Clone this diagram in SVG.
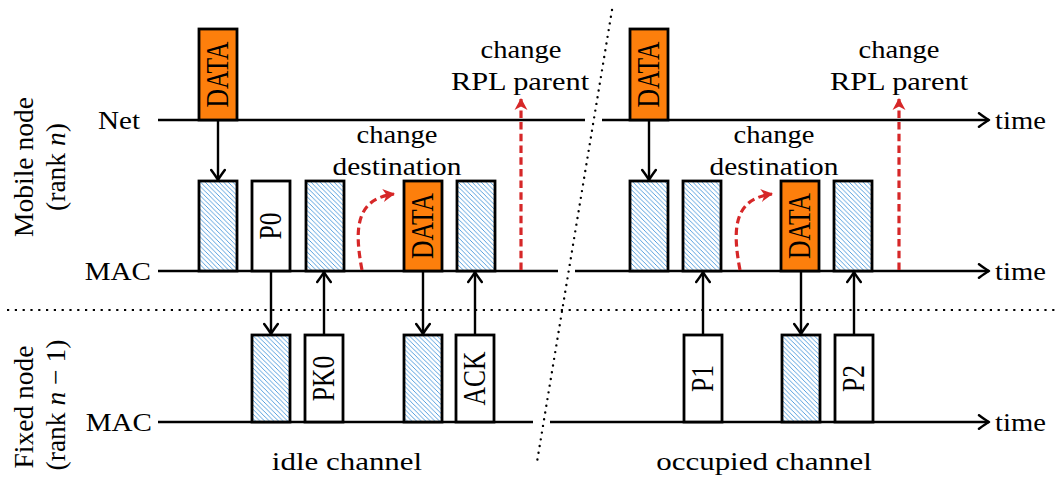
<svg xmlns="http://www.w3.org/2000/svg" width="1059" height="480" viewBox="0 0 1059 480">
  <style>
    text { font-family: "Liberation Serif", "Times New Roman", serif; fill: #000; stroke: none; }
    .lbl { font-size: 26px; }
    .side { font-size: 27.5px; text-anchor: middle; }
    .mid { text-anchor: middle; }
    .end { text-anchor: end; }
    .box-text { font-size: 25.5px; text-anchor: middle; }
    .axis { stroke: #000; stroke-width: 2.6; fill: none; }
    .frame { stroke: #000; stroke-width: 2.8; }
    .hatched { fill: url(#nwlines); }
    .plain { fill: #fff; }
    .orange { fill: #fd7f0c; }
    .msg { stroke: #000; stroke-width: 2.4; fill: none; marker-end: url(#barb); }
    .change { stroke: #d62728; stroke-width: 3.2; fill: none; stroke-dasharray: 7.5 4.2; marker-end: url(#redhead); }
    .sep-h { stroke: #000; stroke-width: 2.2; stroke-dasharray: 2.2 5.6; fill: none; }
    .sep-d { stroke: #000; stroke-width: 2.4; stroke-dasharray: 0 6.8; stroke-linecap: round; fill: none; }
  </style>
  <defs>
    <!-- north-west hatching for the channel-busy slots -->
    <pattern id="nwlines" patternUnits="userSpaceOnUse" width="4.6" height="4.6">
      <rect width="4.6" height="4.6" fill="#fff"/>
      <path d="M-1,-1 L5.6,5.6 M-1,3.6 L1,5.6 M3.6,-1 L5.6,1" stroke="#3a8fd8" stroke-width="0.85"/>
    </pattern>
    <marker id="barb" markerUnits="userSpaceOnUse" markerWidth="16" markerHeight="16" viewBox="-12 -8 14 16" refX="0" refY="0" orient="auto">
      <path d="M-10,-6.8 Q-3,-1.6 0,0 Q-3,1.6 -10,6.8" stroke="#000" stroke-width="2.5" fill="none" stroke-linecap="round" stroke-linejoin="round"/>
    </marker>
    <marker id="redhead" markerUnits="userSpaceOnUse" markerWidth="16" markerHeight="16" viewBox="-13 -8 15 16" refX="0" refY="0" orient="auto">
      <path d="M1,0 L-11,-6.5 L-7.5,0 L-11,6.5 Z" fill="#d62728"/>
    </marker>
  </defs>

  <!-- separators: node boundary and idle/occupied split -->
  <g id="separators">
    <line class="sep-h" x1="7" y1="310" x2="1059" y2="310"/>
    <line class="sep-d" x1="612" y1="10" x2="537" y2="462"/>
  </g>

  <!-- time axes -->
  <g id="axes">
    <line class="axis" x1="158" y1="120" x2="585" y2="120"/>
    <line class="axis" x1="602" y1="120" x2="989" y2="120" marker-end="url(#barb)"/>
    <line class="axis" x1="158" y1="271" x2="558" y2="271"/>
    <line class="axis" x1="575" y1="271" x2="989" y2="271" marker-end="url(#barb)"/>
    <line class="axis" x1="158" y1="422" x2="533" y2="422"/>
    <line class="axis" x1="550" y1="422" x2="989" y2="422" marker-end="url(#barb)"/>
    <text class="lbl" transform="translate(995,128.5) scale(1.1,1)">time</text>
    <text class="lbl" transform="translate(995,280) scale(1.1,1)">time</text>
    <text class="lbl" transform="translate(995,430.5) scale(1.1,1)">time</text>
    <text class="lbl end" transform="translate(140,128.5) scale(1.12,1)">Net</text>
    <text class="lbl end" transform="translate(151,280) scale(1.12,1)">MAC</text>
    <text class="lbl end" transform="translate(152,430.5) scale(1.12,1)">MAC</text>
  </g>

  <!-- side labels -->
  <g id="mobile-label">
    <text class="side" transform="translate(33,167) rotate(-90)">Mobile node</text>
    <text class="side" transform="translate(65,167) rotate(-90)">(rank <tspan font-style="italic">n</tspan>)</text>
  </g>
  <g id="fixed-label">
    <text class="side" transform="translate(33,407) rotate(-90)">Fixed node</text>
    <text class="side" transform="translate(65,405) rotate(-90)">(rank <tspan font-style="italic">n</tspan> − 1)</text>
  </g>

  <!-- mobile node, network layer -->
  <g id="net-data-idle">
    <rect class="frame orange" x="199" y="29" width="38" height="91"/>
    <text class="box-text" transform="translate(218,74.5) scale(1.22,1) rotate(-90)" y="8.4">DATA</text>
  </g>
  <g id="net-data-busy">
    <rect class="frame orange" x="630" y="29" width="38" height="91"/>
    <text class="box-text" transform="translate(649,74.5) scale(1.22,1) rotate(-90)" y="8.4">DATA</text>
  </g>

  <!-- mobile node, MAC layer -->
  <g id="mob-cca-1"><rect class="frame hatched" x="199" y="181" width="38" height="90"/></g>
  <g id="mob-p0">
    <rect class="frame plain" x="252" y="181" width="38" height="90"/>
    <text class="box-text" transform="translate(271,226) scale(1.22,1) rotate(-90)" y="8.4">P0</text>
  </g>
  <g id="mob-rx-pk0"><rect class="frame hatched" x="306" y="181" width="38" height="90"/></g>
  <g id="mob-data-idle">
    <rect class="frame orange" x="404" y="181" width="38" height="90"/>
    <text class="box-text" transform="translate(423,226) scale(1.22,1) rotate(-90)" y="8.4">DATA</text>
  </g>
  <g id="mob-rx-ack"><rect class="frame hatched" x="457" y="181" width="38" height="90"/></g>

  <g id="mob-cca-2"><rect class="frame hatched" x="630" y="181" width="38" height="90"/></g>
  <g id="mob-rx-p1"><rect class="frame hatched" x="683" y="181" width="38" height="90"/></g>
  <g id="mob-data-busy">
    <rect class="frame orange" x="781" y="181" width="38" height="90"/>
    <text class="box-text" transform="translate(800,226) scale(1.22,1) rotate(-90)" y="8.4">DATA</text>
  </g>
  <g id="mob-rx-p2"><rect class="frame hatched" x="834" y="181" width="38" height="90"/></g>

  <!-- fixed node, MAC layer -->
  <g id="fix-rx-p0"><rect class="frame hatched" x="252" y="335" width="38" height="87"/></g>
  <g id="fix-pk0">
    <rect class="frame plain" x="305" y="335" width="38" height="87"/>
    <text class="box-text" transform="translate(324,378.5) scale(1.22,1) rotate(-90)" y="8.4">PK0</text>
  </g>
  <g id="fix-rx-data-idle"><rect class="frame hatched" x="404" y="335" width="38" height="87"/></g>
  <g id="fix-ack">
    <rect class="frame plain" x="456" y="335" width="38" height="87"/>
    <text class="box-text" transform="translate(475,378.5) scale(1.22,1) rotate(-90)" y="8.4">ACK</text>
  </g>
  <g id="fix-p1">
    <rect class="frame plain" x="684" y="335" width="38" height="87"/>
    <text class="box-text" transform="translate(703,378.5) scale(1.22,1) rotate(-90)" y="8.4">P1</text>
  </g>
  <g id="fix-rx-data-busy"><rect class="frame hatched" x="782" y="335" width="38" height="87"/></g>
  <g id="fix-p2">
    <rect class="frame plain" x="835" y="335" width="38" height="87"/>
    <text class="box-text" transform="translate(854,378.5) scale(1.22,1) rotate(-90)" y="8.4">P2</text>
  </g>

  <!-- message exchanges and routing decisions -->
  <g id="connectors">
    <line class="msg" x1="218" y1="121" x2="218" y2="180"/>
    <line class="msg" x1="649" y1="121" x2="649" y2="180"/>
    <line class="msg" x1="271" y1="272" x2="271" y2="334"/>
    <line class="msg" x1="324" y1="334" x2="324" y2="272"/>
    <line class="msg" x1="423" y1="272" x2="423" y2="334"/>
    <line class="msg" x1="475" y1="334" x2="475" y2="272"/>
    <line class="msg" x1="703" y1="334" x2="703" y2="272"/>
    <line class="msg" x1="801" y1="272" x2="801" y2="334"/>
    <line class="msg" x1="854" y1="334" x2="854" y2="272"/>

    <path class="change" d="M362,270 C354,228 356,199 394,194"/>
    <path class="change" d="M740,270 C732,228 734,199 772,194"/>
    <line class="change" x1="521" y1="270" x2="521" y2="99"/>
    <line class="change" x1="899" y1="270" x2="899" y2="99"/>
  </g>

  <!-- annotations -->
  <g id="notes">
    <text class="lbl mid" transform="translate(521,58) scale(1.1,1)">change</text>
    <text class="lbl mid" transform="translate(520,90) scale(1.17,1)">RPL parent</text>
    <text class="lbl mid" transform="translate(899,58) scale(1.1,1)">change</text>
    <text class="lbl mid" transform="translate(899,90) scale(1.17,1)">RPL parent</text>
    <text class="lbl mid" transform="translate(397,143) scale(1.1,1)">change</text>
    <text class="lbl mid" transform="translate(397,175) scale(1.13,1)">destination</text>
    <text class="lbl mid" transform="translate(774,143) scale(1.1,1)">change</text>
    <text class="lbl mid" transform="translate(774,175) scale(1.13,1)">destination</text>
    <text class="lbl mid" transform="translate(347,470) scale(1.19,1)">idle channel</text>
    <text class="lbl mid" transform="translate(764,470) scale(1.19,1)">occupied channel</text>
  </g>
</svg>
